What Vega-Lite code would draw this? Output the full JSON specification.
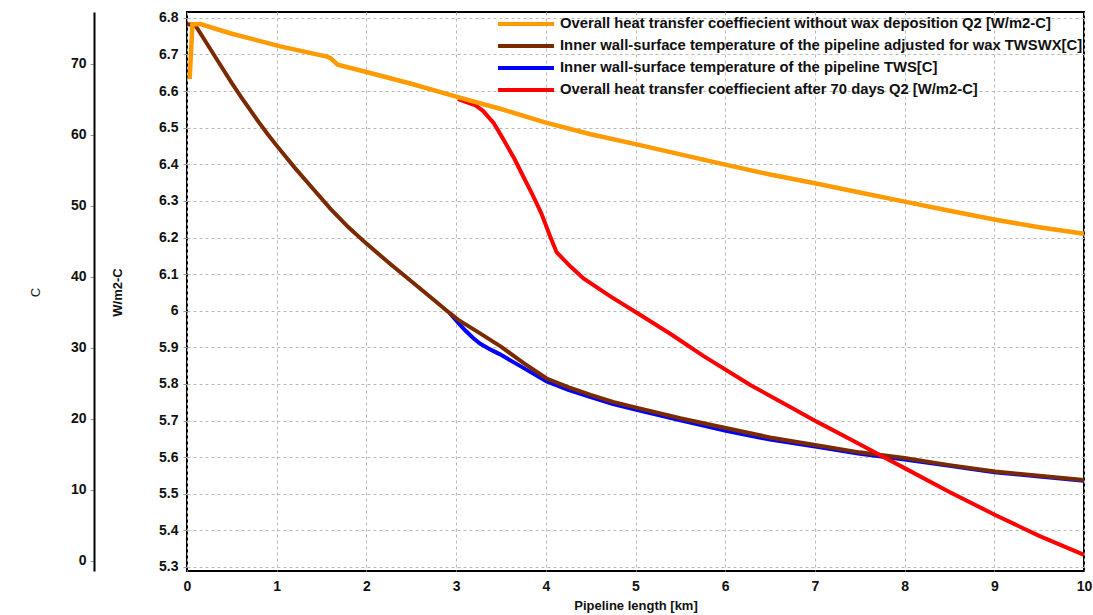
{
  "$schema": "https://vega.github.io/schema/vega-lite/v6.json",
  "width": 897,
  "height": 559,
  "autosize": {"type": "none"},
  "padding": {"left": 187, "top": 12, "right": 9, "bottom": 44},
  "background": "white",
  "config": {
    "view": {"stroke": "black", "strokeWidth": 2},
    "font": "Liberation Sans",
    "axis": {
      "labelFont": "Liberation Sans",
      "labelFontWeight": "bold",
      "labelFontSize": 14,
      "labelColor": "#111",
      "titleFont": "Liberation Sans",
      "titleFontWeight": "bold",
      "titleFontSize": 13,
      "titleColor": "#111",
      "gridColor": "#b8b8b8",
      "gridDash": [3, 3],
      "gridWidth": 1,
      "tickColor": "#999",
      "tickSize": 4
    }
  },
  "data": {
    "values": [
      {"km": 0.03, "v": 6.633, "s": "Overall heat transfer coeffiecient without wax deposition Q2 [W/m2-C]"},
      {"km": 0.06, "v": 6.782, "s": "Overall heat transfer coeffiecient without wax deposition Q2 [W/m2-C]"},
      {"km": 0.15, "v": 6.783, "s": "Overall heat transfer coeffiecient without wax deposition Q2 [W/m2-C]"},
      {"km": 0.48, "v": 6.758, "s": "Overall heat transfer coeffiecient without wax deposition Q2 [W/m2-C]"},
      {"km": 1.04, "v": 6.722, "s": "Overall heat transfer coeffiecient without wax deposition Q2 [W/m2-C]"},
      {"km": 1.56, "v": 6.694, "s": "Overall heat transfer coeffiecient without wax deposition Q2 [W/m2-C]"},
      {"km": 1.6, "v": 6.69, "s": "Overall heat transfer coeffiecient without wax deposition Q2 [W/m2-C]"},
      {"km": 1.68, "v": 6.672, "s": "Overall heat transfer coeffiecient without wax deposition Q2 [W/m2-C]"},
      {"km": 2.0, "v": 6.652, "s": "Overall heat transfer coeffiecient without wax deposition Q2 [W/m2-C]"},
      {"km": 2.5, "v": 6.62, "s": "Overall heat transfer coeffiecient without wax deposition Q2 [W/m2-C]"},
      {"km": 3.0, "v": 6.585, "s": "Overall heat transfer coeffiecient without wax deposition Q2 [W/m2-C]"},
      {"km": 3.5, "v": 6.551, "s": "Overall heat transfer coeffiecient without wax deposition Q2 [W/m2-C]"},
      {"km": 4.0, "v": 6.514, "s": "Overall heat transfer coeffiecient without wax deposition Q2 [W/m2-C]"},
      {"km": 4.5, "v": 6.482, "s": "Overall heat transfer coeffiecient without wax deposition Q2 [W/m2-C]"},
      {"km": 5.0, "v": 6.455, "s": "Overall heat transfer coeffiecient without wax deposition Q2 [W/m2-C]"},
      {"km": 5.5, "v": 6.427, "s": "Overall heat transfer coeffiecient without wax deposition Q2 [W/m2-C]"},
      {"km": 6.0, "v": 6.399, "s": "Overall heat transfer coeffiecient without wax deposition Q2 [W/m2-C]"},
      {"km": 6.5, "v": 6.372, "s": "Overall heat transfer coeffiecient without wax deposition Q2 [W/m2-C]"},
      {"km": 7.0, "v": 6.348, "s": "Overall heat transfer coeffiecient without wax deposition Q2 [W/m2-C]"},
      {"km": 7.5, "v": 6.323, "s": "Overall heat transfer coeffiecient without wax deposition Q2 [W/m2-C]"},
      {"km": 8.0, "v": 6.298, "s": "Overall heat transfer coeffiecient without wax deposition Q2 [W/m2-C]"},
      {"km": 8.5, "v": 6.273, "s": "Overall heat transfer coeffiecient without wax deposition Q2 [W/m2-C]"},
      {"km": 9.0, "v": 6.249, "s": "Overall heat transfer coeffiecient without wax deposition Q2 [W/m2-C]"},
      {"km": 9.5, "v": 6.228, "s": "Overall heat transfer coeffiecient without wax deposition Q2 [W/m2-C]"},
      {"km": 10.0, "v": 6.21, "s": "Overall heat transfer coeffiecient without wax deposition Q2 [W/m2-C]"},

      {"km": 3.02, "v": 6.578, "s": "Overall heat transfer coeffiecient after 70 days Q2 [W/m2-C]"},
      {"km": 3.21, "v": 6.562, "s": "Overall heat transfer coeffiecient after 70 days Q2 [W/m2-C]"},
      {"km": 3.3, "v": 6.546, "s": "Overall heat transfer coeffiecient after 70 days Q2 [W/m2-C]"},
      {"km": 3.42, "v": 6.512, "s": "Overall heat transfer coeffiecient after 70 days Q2 [W/m2-C]"},
      {"km": 3.53, "v": 6.467, "s": "Overall heat transfer coeffiecient after 70 days Q2 [W/m2-C]"},
      {"km": 3.65, "v": 6.415, "s": "Overall heat transfer coeffiecient after 70 days Q2 [W/m2-C]"},
      {"km": 3.75, "v": 6.366, "s": "Overall heat transfer coeffiecient after 70 days Q2 [W/m2-C]"},
      {"km": 3.85, "v": 6.318, "s": "Overall heat transfer coeffiecient after 70 days Q2 [W/m2-C]"},
      {"km": 3.95, "v": 6.266, "s": "Overall heat transfer coeffiecient after 70 days Q2 [W/m2-C]"},
      {"km": 4.05, "v": 6.202, "s": "Overall heat transfer coeffiecient after 70 days Q2 [W/m2-C]"},
      {"km": 4.12, "v": 6.16, "s": "Overall heat transfer coeffiecient after 70 days Q2 [W/m2-C]"},
      {"km": 4.27, "v": 6.122, "s": "Overall heat transfer coeffiecient after 70 days Q2 [W/m2-C]"},
      {"km": 4.42, "v": 6.088, "s": "Overall heat transfer coeffiecient after 70 days Q2 [W/m2-C]"},
      {"km": 4.72, "v": 6.039, "s": "Overall heat transfer coeffiecient after 70 days Q2 [W/m2-C]"},
      {"km": 5.01, "v": 5.995, "s": "Overall heat transfer coeffiecient after 70 days Q2 [W/m2-C]"},
      {"km": 5.4, "v": 5.935, "s": "Overall heat transfer coeffiecient after 70 days Q2 [W/m2-C]"},
      {"km": 5.76, "v": 5.876, "s": "Overall heat transfer coeffiecient after 70 days Q2 [W/m2-C]"},
      {"km": 6.28, "v": 5.797, "s": "Overall heat transfer coeffiecient after 70 days Q2 [W/m2-C]"},
      {"km": 6.72, "v": 5.738, "s": "Overall heat transfer coeffiecient after 70 days Q2 [W/m2-C]"},
      {"km": 7.02, "v": 5.697, "s": "Overall heat transfer coeffiecient after 70 days Q2 [W/m2-C]"},
      {"km": 7.4, "v": 5.648, "s": "Overall heat transfer coeffiecient after 70 days Q2 [W/m2-C]"},
      {"km": 7.76, "v": 5.601, "s": "Overall heat transfer coeffiecient after 70 days Q2 [W/m2-C]"},
      {"km": 8.0, "v": 5.57, "s": "Overall heat transfer coeffiecient after 70 days Q2 [W/m2-C]"},
      {"km": 8.5, "v": 5.505, "s": "Overall heat transfer coeffiecient after 70 days Q2 [W/m2-C]"},
      {"km": 9.01, "v": 5.442, "s": "Overall heat transfer coeffiecient after 70 days Q2 [W/m2-C]"},
      {"km": 9.5, "v": 5.385, "s": "Overall heat transfer coeffiecient after 70 days Q2 [W/m2-C]"},
      {"km": 10.0, "v": 5.333, "s": "Overall heat transfer coeffiecient after 70 days Q2 [W/m2-C]"},

      {"km": 0.0, "v": 75.6, "s": "Inner wall-surface temperature of the pipeline adjusted for wax TWSWX[C]"},
      {"km": 0.09, "v": 75.5, "s": "Inner wall-surface temperature of the pipeline adjusted for wax TWSWX[C]"},
      {"km": 0.2, "v": 73.3, "s": "Inner wall-surface temperature of the pipeline adjusted for wax TWSWX[C]"},
      {"km": 0.3, "v": 71.3, "s": "Inner wall-surface temperature of the pipeline adjusted for wax TWSWX[C]"},
      {"km": 0.4, "v": 69.3, "s": "Inner wall-surface temperature of the pipeline adjusted for wax TWSWX[C]"},
      {"km": 0.5, "v": 67.3, "s": "Inner wall-surface temperature of the pipeline adjusted for wax TWSWX[C]"},
      {"km": 0.6, "v": 65.4, "s": "Inner wall-surface temperature of the pipeline adjusted for wax TWSWX[C]"},
      {"km": 0.7, "v": 63.6, "s": "Inner wall-surface temperature of the pipeline adjusted for wax TWSWX[C]"},
      {"km": 0.8, "v": 61.8, "s": "Inner wall-surface temperature of the pipeline adjusted for wax TWSWX[C]"},
      {"km": 0.9, "v": 60.1, "s": "Inner wall-surface temperature of the pipeline adjusted for wax TWSWX[C]"},
      {"km": 1.0, "v": 58.5, "s": "Inner wall-surface temperature of the pipeline adjusted for wax TWSWX[C]"},
      {"km": 1.2, "v": 55.4, "s": "Inner wall-surface temperature of the pipeline adjusted for wax TWSWX[C]"},
      {"km": 1.4, "v": 52.5, "s": "Inner wall-surface temperature of the pipeline adjusted for wax TWSWX[C]"},
      {"km": 1.6, "v": 49.6, "s": "Inner wall-surface temperature of the pipeline adjusted for wax TWSWX[C]"},
      {"km": 1.8, "v": 47.0, "s": "Inner wall-surface temperature of the pipeline adjusted for wax TWSWX[C]"},
      {"km": 2.0, "v": 44.7, "s": "Inner wall-surface temperature of the pipeline adjusted for wax TWSWX[C]"},
      {"km": 2.25, "v": 42.0, "s": "Inner wall-surface temperature of the pipeline adjusted for wax TWSWX[C]"},
      {"km": 2.5, "v": 39.4, "s": "Inner wall-surface temperature of the pipeline adjusted for wax TWSWX[C]"},
      {"km": 2.75, "v": 36.8, "s": "Inner wall-surface temperature of the pipeline adjusted for wax TWSWX[C]"},
      {"km": 2.93, "v": 34.9, "s": "Inner wall-surface temperature of the pipeline adjusted for wax TWSWX[C]"},
      {"km": 3.02, "v": 34.0, "s": "Inner wall-surface temperature of the pipeline adjusted for wax TWSWX[C]"},
      {"km": 3.25, "v": 32.2, "s": "Inner wall-surface temperature of the pipeline adjusted for wax TWSWX[C]"},
      {"km": 3.5, "v": 30.2, "s": "Inner wall-surface temperature of the pipeline adjusted for wax TWSWX[C]"},
      {"km": 3.75, "v": 27.9, "s": "Inner wall-surface temperature of the pipeline adjusted for wax TWSWX[C]"},
      {"km": 4.01, "v": 25.7, "s": "Inner wall-surface temperature of the pipeline adjusted for wax TWSWX[C]"},
      {"km": 4.25, "v": 24.5, "s": "Inner wall-surface temperature of the pipeline adjusted for wax TWSWX[C]"},
      {"km": 4.5, "v": 23.4, "s": "Inner wall-surface temperature of the pipeline adjusted for wax TWSWX[C]"},
      {"km": 4.75, "v": 22.4, "s": "Inner wall-surface temperature of the pipeline adjusted for wax TWSWX[C]"},
      {"km": 5.01, "v": 21.6, "s": "Inner wall-surface temperature of the pipeline adjusted for wax TWSWX[C]"},
      {"km": 5.5, "v": 20.1, "s": "Inner wall-surface temperature of the pipeline adjusted for wax TWSWX[C]"},
      {"km": 6.02, "v": 18.7, "s": "Inner wall-surface temperature of the pipeline adjusted for wax TWSWX[C]"},
      {"km": 6.5, "v": 17.4, "s": "Inner wall-surface temperature of the pipeline adjusted for wax TWSWX[C]"},
      {"km": 7.02, "v": 16.3, "s": "Inner wall-surface temperature of the pipeline adjusted for wax TWSWX[C]"},
      {"km": 7.5, "v": 15.3, "s": "Inner wall-surface temperature of the pipeline adjusted for wax TWSWX[C]"},
      {"km": 8.0, "v": 14.5, "s": "Inner wall-surface temperature of the pipeline adjusted for wax TWSWX[C]"},
      {"km": 8.5, "v": 13.5, "s": "Inner wall-surface temperature of the pipeline adjusted for wax TWSWX[C]"},
      {"km": 9.01, "v": 12.6, "s": "Inner wall-surface temperature of the pipeline adjusted for wax TWSWX[C]"},
      {"km": 9.5, "v": 12.0, "s": "Inner wall-surface temperature of the pipeline adjusted for wax TWSWX[C]"},
      {"km": 10.0, "v": 11.4, "s": "Inner wall-surface temperature of the pipeline adjusted for wax TWSWX[C]"},

      {"km": 2.93, "v": 34.9, "s": "Inner wall-surface temperature of the pipeline TWS[C]"},
      {"km": 3.02, "v": 33.6, "s": "Inner wall-surface temperature of the pipeline TWS[C]"},
      {"km": 3.1, "v": 32.5, "s": "Inner wall-surface temperature of the pipeline TWS[C]"},
      {"km": 3.19, "v": 31.4, "s": "Inner wall-surface temperature of the pipeline TWS[C]"},
      {"km": 3.27, "v": 30.6, "s": "Inner wall-surface temperature of the pipeline TWS[C]"},
      {"km": 3.38, "v": 29.8, "s": "Inner wall-surface temperature of the pipeline TWS[C]"},
      {"km": 3.49, "v": 29.1, "s": "Inner wall-surface temperature of the pipeline TWS[C]"},
      {"km": 3.75, "v": 27.2, "s": "Inner wall-surface temperature of the pipeline TWS[C]"},
      {"km": 4.01, "v": 25.3, "s": "Inner wall-surface temperature of the pipeline TWS[C]"},
      {"km": 4.25, "v": 24.1, "s": "Inner wall-surface temperature of the pipeline TWS[C]"},
      {"km": 4.5, "v": 23.1, "s": "Inner wall-surface temperature of the pipeline TWS[C]"},
      {"km": 4.75, "v": 22.1, "s": "Inner wall-surface temperature of the pipeline TWS[C]"},
      {"km": 5.01, "v": 21.3, "s": "Inner wall-surface temperature of the pipeline TWS[C]"},
      {"km": 5.5, "v": 19.8, "s": "Inner wall-surface temperature of the pipeline TWS[C]"},
      {"km": 6.02, "v": 18.3, "s": "Inner wall-surface temperature of the pipeline TWS[C]"},
      {"km": 6.5, "v": 17.1, "s": "Inner wall-surface temperature of the pipeline TWS[C]"},
      {"km": 7.02, "v": 16.1, "s": "Inner wall-surface temperature of the pipeline TWS[C]"},
      {"km": 7.5, "v": 15.1, "s": "Inner wall-surface temperature of the pipeline TWS[C]"},
      {"km": 8.0, "v": 14.3, "s": "Inner wall-surface temperature of the pipeline TWS[C]"},
      {"km": 8.5, "v": 13.4, "s": "Inner wall-surface temperature of the pipeline TWS[C]"},
      {"km": 9.0, "v": 12.5, "s": "Inner wall-surface temperature of the pipeline TWS[C]"},
      {"km": 9.5, "v": 11.9, "s": "Inner wall-surface temperature of the pipeline TWS[C]"},
      {"km": 10.0, "v": 11.3, "s": "Inner wall-surface temperature of the pipeline TWS[C]"}
    ]
  },
  "encoding": {
    "x": {
      "field": "km",
      "type": "quantitative",
      "title": "Pipeline length [km]",
      "scale": {"domain": [0, 10], "nice": false, "zero": false},
      "axis": {
        "values": [0, 1, 2, 3, 4, 5, 6, 7, 8, 9, 10],
        "grid": true,
        "domain": false,
        "ticks": false,
        "labelPadding": 8,
        "titlePadding": 6,
        "labelFlush": false
      }
    },
    "color": {
      "field": "s",
      "type": "nominal",
      "scale": {
        "domain": [
          "Overall heat transfer coeffiecient without wax deposition Q2 [W/m2-C]",
          "Inner wall-surface temperature of the pipeline adjusted for wax TWSWX[C]",
          "Inner wall-surface temperature of the pipeline TWS[C]",
          "Overall heat transfer coeffiecient after 70 days Q2 [W/m2-C]"
        ],
        "range": ["#ff9a00", "#7b2a00", "#0000ff", "#ff0000"]
      },
      "legend": {
        "orient": "none",
        "legendX": 330,
        "legendY": 3,
        "title": null,
        "symbolType": "M-4,0H4",
        "symbolSize": 196,
        "symbolStrokeWidth": 4,
        "symbolFillColor": "transparent",
        "labelFont": "Liberation Sans",
        "labelFontSize": 14.8,
        "labelFontWeight": "bold",
        "labelColor": "#111",
        "labelLimit": 700,
        "labelOffset": 25,
        "rowPadding": 5,
        "padding": 0
      }
    }
  },
  "layer": [
    {
      "encoding": {
        "y": {
          "field": "v",
          "type": "quantitative",
          "title": "C",
          "scale": {"domain": [-1.41, 77.32], "nice": false, "zero": false},
          "axis": {
            "orient": "left",
            "offset": 93,
            "values": [0, 10, 20, 30, 40, 50, 60, 70],
            "grid": false,
            "domain": true,
            "domainColor": "black",
            "domainWidth": 2,
            "labelPadding": 4,
            "titleX": -52,
            "titleY": 280,
            "titleFontWeight": "normal"
          }
        }
      },
      "layer": [
        {
          "transform": [{"filter": "datum.s == 'Inner wall-surface temperature of the pipeline TWS[C]'"}],
          "mark": {"type": "line", "strokeWidth": 4}
        },
        {
          "transform": [{"filter": "datum.s == 'Inner wall-surface temperature of the pipeline adjusted for wax TWSWX[C]'"}],
          "mark": {"type": "line", "strokeWidth": 4}
        }
      ]
    },
    {
      "encoding": {
        "y": {
          "field": "v",
          "type": "quantitative",
          "title": "W/m2-C",
          "scale": {"domain": [5.289, 6.816], "nice": false, "zero": false},
          "axis": {
            "orient": "left",
            "offset": 0,
            "values": [5.3, 5.4, 5.5, 5.6, 5.7, 5.8, 5.9, 6.0, 6.1, 6.2, 6.3, 6.4, 6.5, 6.6, 6.7, 6.8],
            "format": "~g",
            "grid": true,
            "domain": false,
            "labelPadding": 5,
            "titleX": -63,
            "titleY": 280
          }
        }
      },
      "layer": [
        {
          "transform": [{"filter": "datum.s == 'Overall heat transfer coeffiecient after 70 days Q2 [W/m2-C]'"}],
          "mark": {"type": "line", "strokeWidth": 4}
        },
        {
          "transform": [{"filter": "datum.s == 'Overall heat transfer coeffiecient without wax deposition Q2 [W/m2-C]'"}],
          "mark": {"type": "line", "strokeWidth": 4.5}
        }
      ]
    }
  ],
  "resolve": {"scale": {"y": "independent"}, "axis": {"y": "independent"}}
}
